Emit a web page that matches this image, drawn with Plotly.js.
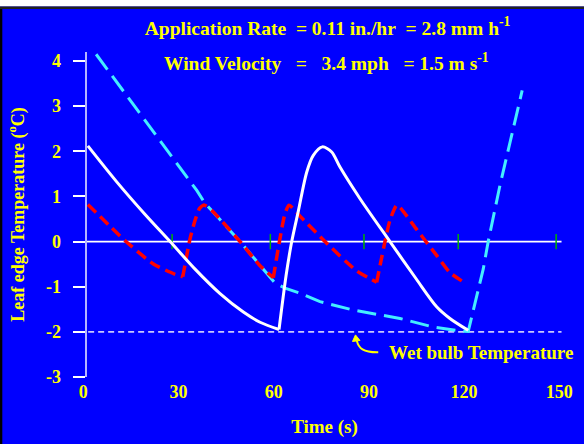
<!DOCTYPE html>
<html>
<head>
<meta charset="utf-8">
<script src="https://cdn.plot.ly/plotly-3.0.1.min.js"></script>
<style>html,body{margin:0;padding:0;background:#0000ff;}#chart{width:584px;height:444px;}</style>
</head>
<body>
<div id="chart"></div>
<script>
// ---- data (time in s, temperature in °C) ----
const xTickVals = [0, 30, 60, 90, 120, 150];
const xTickLabels = ['0', '30', '60', '90', '120', '150'];
const yTickVals = [-3, -2, -1, 0, 1, 2, 3, 4];
const yTickLabels = ['-3', '-2', '-1', '0', '1', '2', '3', '4'];

const whiteT = [1.42, 10.33, 19.47, 27.34, 35.21, 43.08, 50.43, 55.69, 61.67, 63.87, 65.67, 67.75, 70.39, 72.47, 75.31, 78.27, 80.88, 87.15, 96.63, 105.04, 111.34, 115.53, 121.29];
const whiteV = [2.12, 1.34, 0.60, 0, -0.611, -1.153, -1.562, -1.787, -1.948, -0.764, 0, 0.675, 1.537, 1.91, 2.098, 1.984, 1.65, 0.955, 0, -0.84, -1.443, -1.703, -1.966];
const whiteCorners = [8];

const redT = [1.42, 13.17, 22.08, 28.91, 31.34, 33.64, 35.21, 36.63, 38.05, 40.47, 49.39, 55.69, 59.87, 63.40, 64.82, 68.28, 76.16, 86.14, 90.87, 92.44, 95.06, 96.63, 98.83, 101.35, 105.04, 111.34, 115.53, 120.25];
const redV = [0.824, 0.02, -0.497, -0.725, -0.778, 0.067, 0.473, 0.736, 0.81, 0.69, 0, -0.535, -0.80, 0.574, 0.807, 0.564, 0, -0.65, -0.84, -0.902, 0, 0.473, 0.81, 0.62, 0.27, -0.307, -0.687, -0.915];
const redCorners = [4, 12, 19];

const cyanT = [4.03, 35.75, 38.36, 40.47, 49.39, 55.69, 60.41, 63.56, 68.28, 74.58, 85.07, 99.78, 110.27, 118.68, 121.29, 126.02, 127.59, 131.28, 138.3];
const cyanV = [4.15, 1.134, 0.844, 0.69, 0, -0.535, -0.918, -1.03, -1.142, -1.331, -1.517, -1.703, -1.892, -1.98, -1.99, -0.611, 0, 1.24, 3.348];

const zeroLineT = [0.57, 150.7];
const zeroLineV = [0, 0];
const wetBulbT = [1.51, 150.7];
const wetBulbV = [-2, -2];
const greenTickT = [27.97, 58.93, 88.44, 118.14, 149.0];
const greenTickV = [0, 0, 0, 0, 0];

// ---- layout geometry ----
const W = 584, H = 444;
const M = {l: 77, r: 12, t: 52, b: 67};
const PW = W - M.l - M.r, PH = H - M.t - M.b;
const px2x = p => (p - M.l) / PW;
const py2y = p => (H - M.b - p) / PH;

const YEL = '#ffff00';
const FONT = 'Liberation Serif, Times New Roman, serif';
const NB = '\u00a0';

// split a series at sharp corners so each smooth piece is drawn as its own spline
function pieces(t, v, corners) {
  const cuts = [0].concat(corners, [t.length - 1]);
  const out = [];
  for (let i = 0; i < cuts.length - 1; i++) {
    out.push({x: t.slice(cuts[i], cuts[i + 1] + 1), y: v.slice(cuts[i], cuts[i + 1] + 1)});
  }
  return out;
}

const traces = [
  {x: zeroLineT, y: zeroLineV, mode: 'lines', line: {color: '#ffffff', width: 1.6}},
  {x: wetBulbT, y: wetBulbV, mode: 'lines', line: {color: '#c8c8ff', width: 1.6, dash: '6px,4px'}},
  {x: greenTickT, y: greenTickV, mode: 'markers', marker: {symbol: 'line-ns', size: 11, line: {color: '#00b000', width: 1.5}}},
  {x: cyanT, y: cyanV, mode: 'lines', line: {color: '#44eeff', width: 3, dash: '19px,8px'}}
];
pieces(redT, redV, redCorners).forEach(p => traces.push({
  x: p.x, y: p.y, mode: 'lines',
  line: {color: '#ff0000', width: 3.5, dash: '11px,6px', shape: 'spline', smoothing: 0.6}
}));
pieces(whiteT, whiteV, whiteCorners).forEach(p => traces.push({
  x: p.x, y: p.y, mode: 'lines',
  line: {color: '#ffffff', width: 3, shape: 'spline', smoothing: 0.8}
}));

const layout = {
  width: W, height: H,
  margin: M,
  paper_bgcolor: '#0000ff',
  plot_bgcolor: '#0000ff',
  showlegend: false,
  hovermode: false,
  font: {family: FONT, color: YEL, size: 18, weight: 'bold'},
  title: {
    text: 'Application Rate' + NB + NB + '= 0.11 in./hr' + NB + NB + '= 2.8 mm h<sup>-1</sup>',
    font: {family: FONT, color: YEL, size: 19.5, weight: 'bold'},
    x: 327.6 / W, xref: 'container', xanchor: 'center',
    y: 1 - 27.7 / H, yref: 'container', yanchor: 'middle'
  },
  xaxis: {
    range: [-2, 154],
    tickvals: xTickVals, ticktext: xTickLabels,
    showgrid: false, zeroline: false, showline: false, ticks: '',
    tickfont: {family: FONT, color: YEL, size: 18, weight: 'bold'},
    ticklabelstandoff: 2,
    title: {text: 'Time (s)' + NB.repeat(6), font: {family: FONT, color: YEL, size: 19, weight: 'bold'}, standoff: 18},
    automargin: false
  },
  yaxis: {
    range: [-3, 4.2],
    anchor: 'free', position: px2x(85.7),
    tickvals: yTickVals, ticktext: yTickLabels,
    showgrid: false, zeroline: false,
    showline: true, linecolor: '#b4b4ff', linewidth: 2,
    ticks: 'outside', ticklen: 12, tickwidth: 2, tickcolor: '#ffffff',
    tickfont: {family: FONT, color: YEL, size: 18, weight: 'bold'},
    ticklabelstandoff: 8,
    title: {text: 'Leaf edge Temperature (<sup>o</sup>C)', font: {family: FONT, color: YEL, size: 18, weight: 'bold'}, standoff: 16},
    automargin: false
  },
  annotations: [
    {xref: 'paper', yref: 'paper', x: px2x(326.5), y: py2y(62.3),
     text: 'Wind Velocity' + NB + NB + NB + '=' + NB + NB + NB + '3.4 mph' + NB + NB + NB + '= 1.5 m s<sup>-1</sup>',
     showarrow: false, xanchor: 'center', yanchor: 'middle',
     font: {family: FONT, color: YEL, size: 19.5, weight: 'bold'}},
    {xref: 'x', yref: 'y', x: 95.6, y: -2.454, text: 'Wet bulb Temperature',
     showarrow: false, xanchor: 'left', yanchor: 'middle',
     font: {family: FONT, color: YEL, size: 19, weight: 'bold'}}
  ],
  shapes: [
    {type: 'path', xref: 'x', yref: 'y', path: 'M 92.94,-2.454 C 88.2,-2.46 86.7,-2.36 86.2,-2.2',
     line: {color: YEL, width: 2}},
    {type: 'path', xref: 'x', yref: 'y', path: 'M 85.76,-2.067 L 84.82,-2.213 L 87.18,-2.191 Z',
     fillcolor: YEL, line: {color: YEL, width: 1}},
    {type: 'rect', xref: 'paper', yref: 'paper', x0: px2x(0), x1: px2x(W), y0: py2y(0), y1: py2y(6.5),
     fillcolor: '#ffffff', line: {width: 0}},
    {type: 'rect', xref: 'paper', yref: 'paper', x0: px2x(0), x1: px2x(W), y0: py2y(6.5), y1: py2y(9),
     fillcolor: '#222222', line: {width: 0}},
    {type: 'rect', xref: 'paper', yref: 'paper', x0: px2x(0), x1: px2x(2.3), y0: py2y(9), y1: py2y(H),
     fillcolor: '#000000', line: {width: 0}}
  ]
};

Plotly.newPlot('chart', traces, layout, {staticPlot: true, displayModeBar: false});
</script>
</body>
</html>
